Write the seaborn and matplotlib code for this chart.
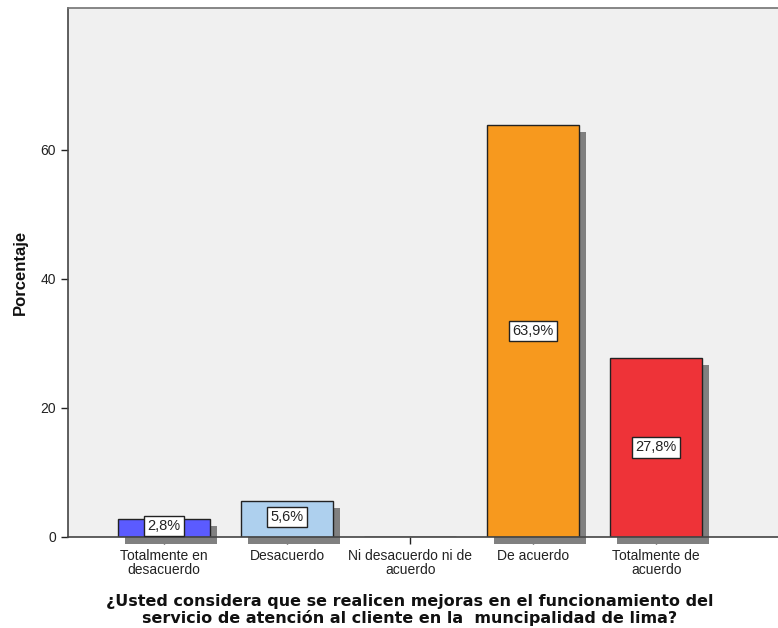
import matplotlib
matplotlib.use("Agg")
import matplotlib.pyplot as plt
import matplotlib.patches as mpatches
import matplotlib.transforms as mtransforms
import seaborn as sns
import pandas as pd

categorias = ["Totalmente en\ndesacuerdo", "Desacuerdo", "Ni desacuerdo ni de\nacuerdo",
              "De acuerdo", "Totalmente de\nacuerdo"]
porcentajes = [2.8, 5.6, 0.0, 63.9, 27.8]
etiquetas = ["2,8%", "5,6%", "", "63,9%", "27,8%"]
colores = ["#5B5BFF", "#AED0EE", "#CCCCCC", "#F7991E", "#EE3338"]
yticks = [0, 20, 40, 60]

sns.set_theme(style="white")
plt.rcParams["font.family"] = ["Liberation Sans", "DejaVu Sans"]

df = pd.DataFrame({"cat": categorias, "pct": porcentajes})

fig = plt.figure(figsize=(7.78, 6.28), dpi=100)
ax = fig.add_axes([68 / 778, 1 - 537 / 628, 720 / 778, 529 / 628])
ax.set_facecolor("#F0F0F0")

sns.barplot(data=df, x="cat", y="pct", hue="cat", palette=colores, legend=False,
            saturation=1, width=0.75, edgecolor="#222222", linewidth=1.0, ax=ax, zorder=3)

# drop shadows behind the bars
shift = mtransforms.ScaledTranslation(7 / 100, -7 / 100, fig.dpi_scale_trans)
for bar, val, lab in zip(ax.patches, porcentajes, etiquetas):
    if val <= 0:
        continue
    sh = mpatches.Rectangle((bar.get_x(), bar.get_y()), bar.get_width(), bar.get_height(),
                            transform=ax.transData + shift, facecolor="#808080",
                            edgecolor="none", zorder=2, clip_on=False)
    ax.add_patch(sh)
    ax.text(bar.get_x() + bar.get_width() / 2, val / 2 if val > 10 else val / 2 + 0.3, lab,
            ha="center", va="center", fontsize=10.5, color="#222222", zorder=5,
            bbox=dict(boxstyle="square,pad=0.22", facecolor="white", edgecolor="#222222", lw=1))

ax.set_xlim(-0.78, 5.07)
ax.set_ylim(0, 82)
ax.set_yticks(yticks)
ax.set_yticklabels([str(t) for t in yticks], fontsize=10, color="#222222")
ax.tick_params(axis="x", labelsize=10, colors="#222222", length=5, width=1, direction="out",
               bottom=True, pad=4)
ax.tick_params(axis="y", length=5, width=1, direction="out", left=True, colors="#222222")
for lbl in ax.get_xticklabels():
    lbl.set_linespacing(1.0)

for side in ["left", "bottom"]:
    ax.spines[side].set_color("#444444")
    ax.spines[side].set_linewidth(1.2)
ax.spines["top"].set_color("#777777")
ax.spines["right"].set_visible(False)
ax.spines["bottom"].set_zorder(4)

ax.set_ylabel("Porcentaje", fontsize=12, fontweight="bold", color="#111111")
ax.yaxis.set_label_coords(-(68 - 28) / 720, 0.5)
ax.set_xlabel("¿Usted considera que se realicen mejoras en el funcionamiento del\n"
              "servicio de atención al cliente en la  muncipalidad de lima?",
              fontsize=11.5, fontweight="bold", color="#111111", linespacing=1.1,
              family=["DejaVu Sans"])
ax.xaxis.set_label_coords((410 - 68) / 720, -57 / 529)

fig.savefig("out.png", dpi=100, facecolor="white")
